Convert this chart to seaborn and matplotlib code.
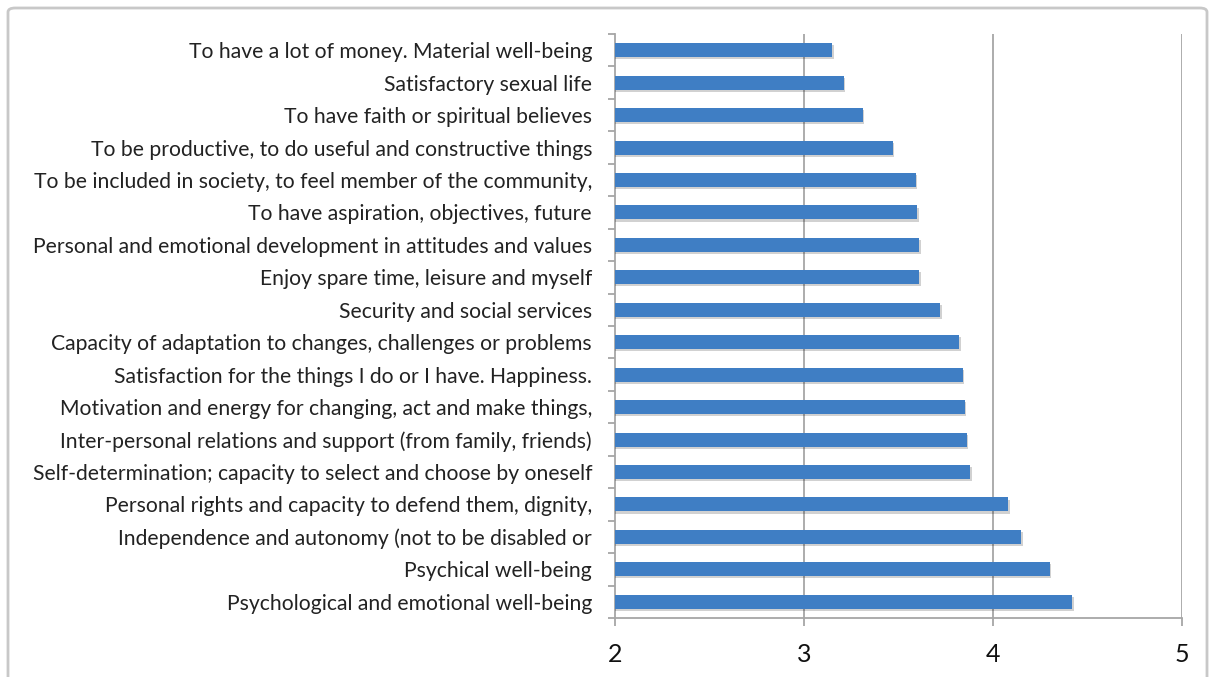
import matplotlib
matplotlib.use("Agg")
import matplotlib.pyplot as plt
import matplotlib.patheffects as pe
from matplotlib.patches import FancyBboxPatch
from matplotlib.ticker import FixedLocator
import seaborn as sns
import pandas as pd

# Quality-of-life dimensions and their mean importance scores
dimensions = [
    "To have a lot of money. Material well-being",
    "Satisfactory sexual life",
    "To have faith or spiritual believes",
    "To be productive, to do useful and constructive things",
    "To be included in society, to feel member of the community,",
    "To have aspiration, objectives, future",
    "Personal and emotional development in attitudes and values",
    "Enjoy spare time, leisure and myself",
    "Security and social services",
    "Capacity of adaptation to changes, challenges or problems",
    "Satisfaction for the things I do or I have. Happiness.",
    "Motivation and energy for changing, act and make things,",
    "Inter-personal relations and support (from family, friends)",
    "Self-determination; capacity to select and choose by oneself",
    "Personal rights and capacity to defend them, dignity,",
    "Independence and autonomy (not to be disabled or",
    "Psychical well-being",
    "Psychological and emotional well-being",
]
scores = [3.15, 3.21, 3.31, 3.47, 3.59, 3.60, 3.61, 3.61, 3.72,
          3.82, 3.84, 3.85, 3.86, 3.88, 4.08, 4.15, 4.30, 4.42]
x_ticks = [2, 3, 4, 5]

df = pd.DataFrame({"dimension": dimensions, "score": scores})

sns.set_theme(style="white")
plt.rcParams["font.family"] = ["Lato", "DejaVu Sans"]

W, H, DPI = 1214, 677, 100
fig = plt.figure(figsize=(W / DPI, H / DPI), dpi=DPI)
fig.patch.set_facecolor("white")

# rounded chart frame
frame = FancyBboxPatch((8 / W, -0.05), 1199 / W, 1.05 - 8 / H,
                       boxstyle="round,pad=0,rounding_size=0.006",
                       transform=fig.transFigure, facecolor="none",
                       edgecolor="#c8c8c8", linewidth=2.0, zorder=-1)
fig.patches.append(frame)

ax = fig.add_axes([615 / W, 1 - 618 / H, (1182 - 615) / W, (618 - 34) / H])
ax.set_facecolor("none")

sns.barplot(data=df, x="score", y="dimension", orient="h", ax=ax,
            color="#3f7ec4", width=0.43, saturation=1.0, linewidth=0,
            zorder=3)

# soft drop shadow under each bar
for bar in ax.patches:
    bar.set_path_effects([pe.SimplePatchShadow(offset=(1.2, -1.5),
                                               shadow_rgbFace="#000000",
                                               alpha=0.18),
                          pe.Normal()])

ax.set_xlim(2, 5)
ax.set_xlabel("")
ax.set_ylabel("")

# vertical gridlines
for v in x_ticks[1:]:
    ax.axvline(v, color="#a6a6a6", linewidth=1.3, zorder=1)

for side in ["top", "right"]:
    ax.spines[side].set_visible(False)
for side in ["left", "bottom"]:
    ax.spines[side].set_color("#a6a6a6")
    ax.spines[side].set_linewidth(1.3)

ax.set_xticks(x_ticks)
ax.set_xticklabels([str(t) for t in x_ticks])
ax.tick_params(axis="x", which="major", direction="out", length=6,
               width=1.3, color="#a6a6a6", labelsize=18, pad=12,
               labelcolor="#111111", bottom=True)

# category ticks sit between the bars
ax.yaxis.set_minor_locator(FixedLocator([i - 0.5 for i in range(len(dimensions) + 1)]))
ax.tick_params(axis="y", which="major", length=0, labelsize=15.2, pad=16.5,
               labelcolor="#222222")
ax.tick_params(axis="y", which="minor", direction="out", length=5,
               width=1.3, color="#a6a6a6", left=True)

fig.savefig("out.png", dpi=DPI, facecolor="white")
